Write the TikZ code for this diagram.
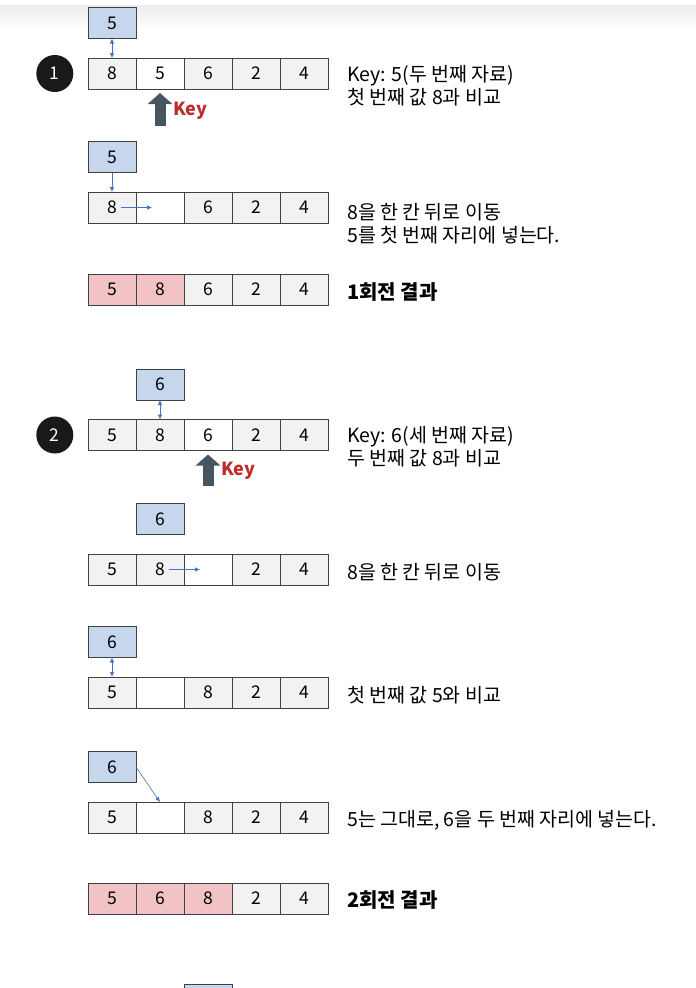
\documentclass[tikz,border=0pt]{standalone}
\usepackage{fontspec}
\setmainfont{Noto Sans CJK KR}
\usepackage{tikz}
\usetikzlibrary{calc}
\usetikzlibrary{positioning}
\usetikzlibrary{arrows.meta}
\definecolor{cellgray}{HTML}{F2F2F2}
\definecolor{cellline}{HTML}{404040}
\definecolor{keyblue}{HTML}{C6D6EC}
\definecolor{donepink}{HTML}{F2C3C4}
\definecolor{linkblue}{HTML}{4472C4}
\definecolor{keyslate}{HTML}{47555E}
\definecolor{keyred}{HTML}{BE2B2B}
\tikzstyle{cell} = [draw=cellline, fill=cellgray, line width=0.9pt, outer sep=0pt, inner sep=0pt, minimum width=48pt, minimum height=31pt, font=\fontsize{17.5}{17.5}\selectfont]
\tikzstyle{blank} = [cell, fill=white]
\tikzstyle{done} = [cell, fill=donepink]
\tikzstyle{keybox} = [cell, fill=keyblue]
\tikzstyle{stepmark} = [circle, fill=black!90, text=white, inner sep=0pt, minimum size=37pt, font=\fontsize{17.5}{17.5}\selectfont]
\tikzstyle{note} = [anchor=west, inner sep=0pt, align=left, font=\fontsize{19.5}{23}\selectfont]
\tikzstyle{result} = [note, font=\fontsize{20}{23}\selectfont\bfseries]
\tikzstyle{link} = [draw=linkblue, line width=0.6pt, -{Latex[length=5pt,width=4.5pt]}]
\tikzstyle{twoway} = [link, {Latex[length=5pt,width=4.5pt]}-{Latex[length=5pt,width=4.5pt]}]
\tikzstyle{keyup} = [draw=keyslate, line width=11pt, -{Triangle[length=11pt,width=24pt]}, keyslate]
\tikzstyle{keylabel} = [anchor=west, inner sep=0pt, text=keyred, font=\fontsize{18}{18}\selectfont\bfseries]

\begin{document}
\begin{tikzpicture}[x=1pt, y=-1pt]
    \useasboundingbox (0,0) rectangle (696,988);
    \shade[top color=black!7, bottom color=white] (0,5) rectangle (696,30);

    % 1st pass
    \node[cell](r1c1) at (112,73.5) {8};
    \node[blank, right=0pt of r1c1](r1c2) {5};
    \node[cell, right=0pt of r1c2](r1c3) {6};
    \node[cell, right=0pt of r1c3](r1c4) {2};
    \node[cell, right=0pt of r1c4](r1c5) {4};
    \node[keybox, above=19.5pt of r1c1](b1) {5};
    \node[stepmark, left=14.5pt of r1c1](s1) {1};
    \coordinate (k1) at (160,126);
    \draw[keyup](k1) -- ([yshift=-4pt]r1c2.south);
    \node[keylabel](key1) at (173,111) {Key};
    \draw[twoway](b1) -- (r1c1);

    \node[cell](r2c1) at (112,207.5) {8};
    \node[blank, right=0pt of r2c1](r2c2) {};
    \node[cell, right=0pt of r2c2](r2c3) {6};
    \node[cell, right=0pt of r2c3](r2c4) {2};
    \node[cell, right=0pt of r2c4](r2c5) {4};
    \node[keybox, above=19.5pt of r2c1](b2) {5};
    \draw[link](b2) -- (r2c1);
    \draw[link]([xshift=8.5pt]r2c1.center) -- ([xshift=-8pt]r2c2.center);

    \node[done](r3c1) at (112,289.5) {5};
    \node[done, right=0pt of r3c1](r3c2) {8};
    \node[cell, right=0pt of r3c2](r3c3) {6};
    \node[cell, right=0pt of r3c3](r3c4) {2};
    \node[cell, right=0pt of r3c4](r3c5) {4};

    \node[note](n1) at (347,86) {Key: 5(두 번째 자료)\\첫 번째 값 8과 비교};
    \node[note](n2) at (347,223.5) {8을 한 칸 뒤로 이동\\5를 첫 번째 자리에 넣는다.};
    \node[result](n3) at (347,292) {1회전 결과};

    % 2nd pass
    \node[cell](r4c1) at (112,435) {5};
    \node[cell, right=0pt of r4c1](r4c2) {8};
    \node[blank, right=0pt of r4c2](r4c3) {6};
    \node[cell, right=0pt of r4c3](r4c4) {2};
    \node[cell, right=0pt of r4c4](r4c5) {4};
    \node[keybox, above=19.5pt of r4c2](b4) {6};
    \node[stepmark, left=14.5pt of r4c1](s2) {2};
    \coordinate (k2) at (208,486);
    \draw[keyup](k2) -- ([yshift=-4pt]r4c3.south);
    \node[keylabel](key2) at (221,471) {Key};
    \draw[twoway](b4) -- (r4c2);

    \node[cell](r5c1) at (112,569.5) {5};
    \node[cell, right=0pt of r5c1](r5c2) {8};
    \node[blank, right=0pt of r5c2](r5c3) {};
    \node[cell, right=0pt of r5c3](r5c4) {2};
    \node[cell, right=0pt of r5c4](r5c5) {4};
    \node[keybox, above=19.5pt of r5c2](b5) {6};
    \draw[link]([xshift=8.5pt]r5c2.center) -- ([xshift=-8pt]r5c3.center);

    \node[cell](r6c1) at (112,692.5) {5};
    \node[blank, right=0pt of r6c1](r6c2) {};
    \node[cell, right=0pt of r6c2](r6c3) {8};
    \node[cell, right=0pt of r6c3](r6c4) {2};
    \node[cell, right=0pt of r6c4](r6c5) {4};
    \node[keybox, above=19.5pt of r6c1](b6) {6};
    \draw[twoway](b6) -- (r6c1);

    \node[cell](r7c1) at (112,817.5) {5};
    \node[blank, right=0pt of r7c1](r7c2) {};
    \node[cell, right=0pt of r7c2](r7c3) {8};
    \node[cell, right=0pt of r7c3](r7c4) {2};
    \node[cell, right=0pt of r7c4](r7c5) {4};
    \node[keybox, above=19.5pt of r7c1](b7) {6};
    \draw[link](b7.east) -- (r7c2.north);

    \node[done](r8c1) at (112,898.5) {5};
    \node[done, right=0pt of r8c1](r8c2) {6};
    \node[done, right=0pt of r8c2](r8c3) {8};
    \node[cell, right=0pt of r8c3](r8c4) {2};
    \node[cell, right=0pt of r8c4](r8c5) {4};

    \node[note](n4) at (347,446.5) {Key: 6(세 번째 자료)\\두 번째 값 8과 비교};
    \node[note](n5) at (347,572) {8을 한 칸 뒤로 이동};
    \node[note](n6) at (347,695) {첫 번째 값 5와 비교};
    \node[note](n7) at (347,820) {5는 그대로, 6을 두 번째 자리에 넣는다.};
    \node[result](n8) at (347,900) {2회전 결과};

    % 3rd pass, cut off
    \node[keybox](b9) at (208,999.5) {};
\end{tikzpicture}
\end{document}
